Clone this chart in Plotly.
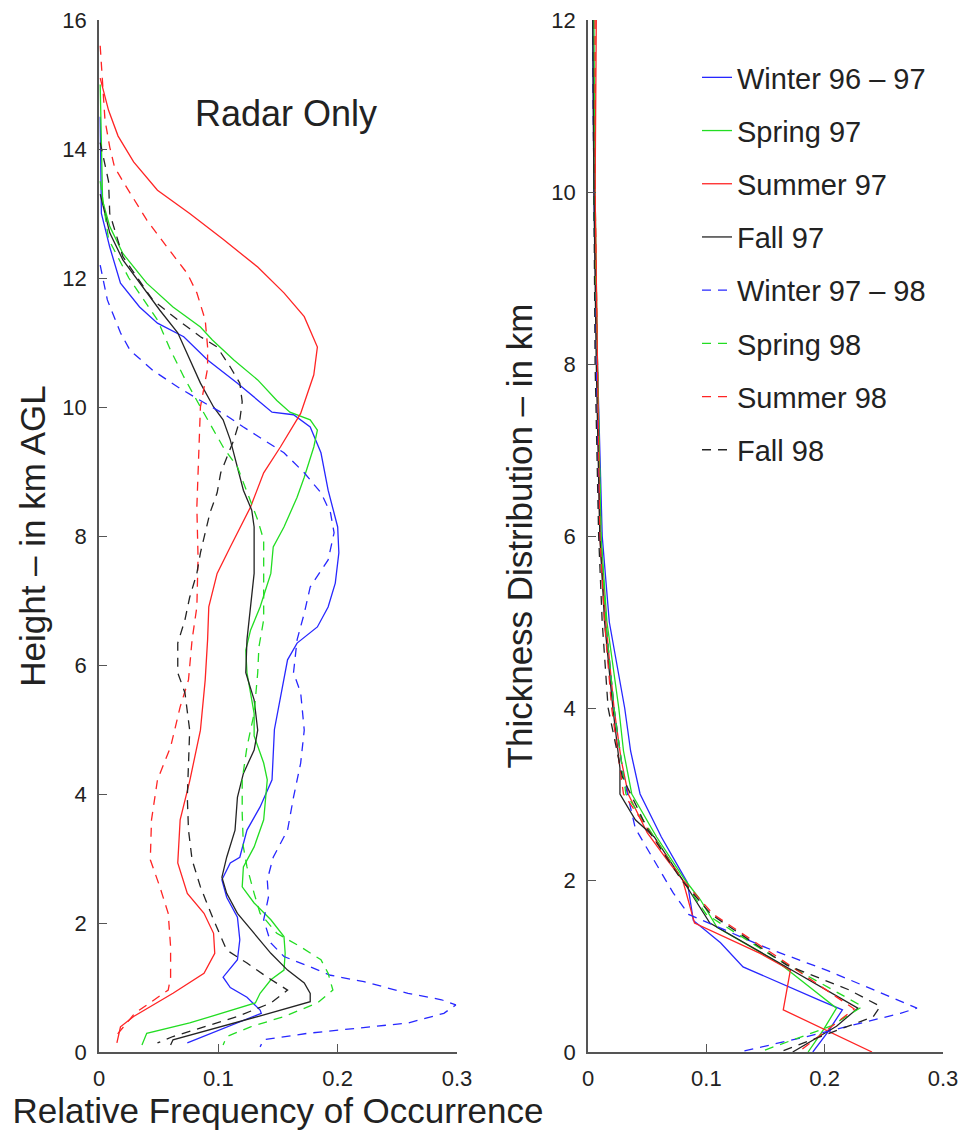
import plotly.graph_objects as go

# ---------------- Left panel: Radar Only (height vs relative frequency) ----------------
w9697_y = [14.5, 13.0, 12.48, 11.92, 11.55, 11.3, 11.09, 10.73, 10.37, 10.1, 9.92, 9.88, 9.69, 9.29, 8.71,
           8.14, 7.74, 7.27, 6.9, 6.59, 6.34, 6.08, 5.5, 5.0, 4.22, 3.8, 3.44, 3.02, 2.93, 2.67, 2.4, 2.09,
           1.74, 1.43, 1.16, 1.0, 0.85, 0.65, 0.6, 0.14]
w9697_x = [0.001, 0.002, 0.009, 0.018, 0.034, 0.049, 0.071, 0.091, 0.116, 0.133, 0.145, 0.163, 0.177, 0.186,
           0.192, 0.2, 0.201, 0.198, 0.192, 0.183, 0.166, 0.158, 0.152, 0.147, 0.145, 0.135, 0.124, 0.118,
           0.110, 0.103, 0.107, 0.116, 0.118, 0.116, 0.104, 0.110, 0.124, 0.135, 0.136, 0.074]

sp97_y = [15.0, 13.2, 12.8, 12.38, 11.92, 11.55, 11.24, 11.04, 10.73, 10.42, 10.1, 9.92, 9.8, 9.64, 9.38,
          8.91, 8.6, 8.14, 7.83, 7.42, 6.9, 6.54, 6.23, 5.88, 5.25, 4.9, 4.48, 4.22, 3.6, 3.18, 2.87, 2.56,
          2.31, 2.05, 1.79, 1.53, 1.27, 1.12, 0.91, 0.76, 0.45, 0.29, 0.11]
sp97_x = [0.001, 0.003, 0.009, 0.02, 0.04, 0.062, 0.085, 0.095, 0.113, 0.133, 0.149, 0.160, 0.177, 0.183,
          0.18, 0.172, 0.166, 0.155, 0.146, 0.144, 0.135, 0.127, 0.123, 0.124, 0.13, 0.13, 0.138, 0.141,
          0.138, 0.130, 0.121, 0.120, 0.130, 0.144, 0.155, 0.156, 0.155, 0.144, 0.135, 0.131, 0.076, 0.04, 0.036]

su97_y = [15.1, 14.6, 14.2, 13.8, 13.36, 13.0, 12.6, 12.17, 11.77, 11.4, 10.93, 10.5, 9.9, 9.38, 8.98, 8.45,
          7.83, 7.42, 6.9, 6.39, 5.77, 4.99, 4.2, 3.6, 2.93, 2.46, 2.15, 1.84, 1.53, 1.22, 0.91, 0.7, 0.55,
          0.39, 0.14]
su97_x = [0.001, 0.008, 0.016, 0.029, 0.049, 0.076, 0.104, 0.133, 0.155, 0.172, 0.183, 0.180, 0.169, 0.152,
          0.138, 0.127, 0.110, 0.099, 0.092, 0.091, 0.089, 0.085, 0.076, 0.068, 0.066, 0.074, 0.088, 0.096,
          0.097, 0.088, 0.062, 0.043, 0.029, 0.018, 0.015]

fa97_y = [13.3, 12.7, 12.28, 11.92, 11.5, 11.15, 10.73, 10.37, 10.0, 9.8, 9.49, 9.07, 8.71, 8.4, 8.14, 7.42,
          6.9, 6.39, 5.88, 5.46, 4.99, 4.68, 4.32, 3.95, 3.44, 3.02, 2.71, 2.46, 2.15, 1.84, 1.53, 1.27, 1.07,
          0.91, 0.78, 0.55, 0.34, 0.19, 0.11]
fa97_x = [0.001, 0.009, 0.02, 0.034, 0.051, 0.066, 0.076, 0.085, 0.096, 0.104, 0.110, 0.116, 0.121, 0.128,
          0.13, 0.13, 0.127, 0.124, 0.123, 0.130, 0.133, 0.130, 0.121, 0.116, 0.114, 0.107, 0.103, 0.107,
          0.116, 0.13, 0.144, 0.158, 0.172, 0.177, 0.177, 0.133, 0.091, 0.062, 0.060]

w9798_y = [12.2, 11.66, 11.15, 10.88, 10.57, 10.31, 10.1, 9.9, 9.69, 9.49, 9.29, 8.98, 8.67, 8.36, 8.05, 7.63,
           7.21, 6.8, 6.39, 5.88, 5.57, 4.99, 4.48, 3.95, 3.44, 3.02, 2.67, 2.4, 2.05, 1.69, 1.48, 1.32, 1.19,
           1.09, 0.91, 0.81, 0.73, 0.6, 0.45, 0.37, 0.29, 0.19, 0.08]
w9798_x = [0.001, 0.007, 0.018, 0.026, 0.045, 0.066, 0.085, 0.104, 0.121, 0.138, 0.155, 0.172, 0.186, 0.194,
           0.197, 0.192, 0.177, 0.172, 0.166, 0.163, 0.169, 0.172, 0.169, 0.163, 0.158, 0.146, 0.141, 0.142,
           0.138, 0.144, 0.155, 0.177, 0.194, 0.222, 0.259, 0.287, 0.299, 0.289, 0.259, 0.217, 0.175, 0.138,
           0.135]

sp98_y = [13.5, 12.6, 12.0, 11.35, 10.88, 10.47, 10.1, 9.75, 9.38, 9.07, 8.67, 8.25, 7.94, 6.7, 6.28, 5.88,
          5.25, 4.73, 4.22, 3.7, 3.18, 2.87, 2.46, 2.15, 1.84, 1.63, 1.43, 1.22, 0.96, 0.76, 0.55, 0.39, 0.24,
          0.11]
sp98_x = [0.001, 0.008, 0.025, 0.049, 0.06, 0.071, 0.082, 0.093, 0.104, 0.116, 0.124, 0.133, 0.138, 0.138,
          0.134, 0.133, 0.13, 0.124, 0.12, 0.12, 0.121, 0.124, 0.130, 0.135, 0.149, 0.169, 0.186, 0.192,
          0.196, 0.183, 0.155, 0.127, 0.107, 0.104]

su98_y = [15.6, 14.45, 14.03, 13.72, 13.5, 13.26, 12.9, 12.48, 12.07, 11.77, 11.35, 10.93, 10.6, 10.0, 8.98,
          8.45, 7.67, 6.9, 6.39, 5.77, 5.35, 4.73, 4.22, 3.6, 2.98, 2.56, 2.15, 1.63, 1.16, 0.96, 0.6, 0.2]
su98_x = [0.001, 0.005, 0.009, 0.013, 0.02, 0.028, 0.040, 0.057, 0.074, 0.082, 0.089, 0.091, 0.091, 0.085,
          0.083, 0.082, 0.083, 0.082, 0.078, 0.075, 0.068, 0.060, 0.049, 0.044, 0.043, 0.051, 0.058, 0.060,
          0.060, 0.058, 0.03, 0.012]

fa98_y = [14.1, 13.5, 13.0, 12.33, 11.66, 11.35, 11.09, 10.93, 10.62, 10.37, 10.08, 9.8, 9.49, 9.22, 8.98,
          8.67, 8.36, 8.05, 7.74, 7.42, 7.05, 6.7, 6.34, 5.88, 5.57, 4.99, 4.48, 3.95, 3.44, 2.98, 2.56, 2.05,
          1.58, 1.38, 1.16, 0.96, 0.76, 0.55, 0.39, 0.24, 0.14]
fa98_x = [0.001, 0.008, 0.009, 0.02, 0.045, 0.066, 0.085, 0.099, 0.110, 0.118, 0.120, 0.118, 0.113, 0.107,
          0.102, 0.099, 0.093, 0.089, 0.085, 0.082, 0.076, 0.072, 0.066, 0.066, 0.072, 0.076, 0.075, 0.074,
          0.075, 0.078, 0.085, 0.096, 0.107, 0.124, 0.141, 0.158, 0.144, 0.116, 0.088, 0.062, 0.049]

# ---------------- Right panel: thickness distribution ----------------
t_w9697_y = [12, 10, 8, 6, 5, 4, 3.5, 3, 2.5, 1.97, 1.53, 1.27, 0.99, 0.8, 0.6, 0.49, 0.22, 0]
t_w9697_x = [0.004, 0.005, 0.008, 0.012, 0.018, 0.031, 0.036, 0.044, 0.062, 0.084, 0.089, 0.112, 0.131,
             0.162, 0.196, 0.215, 0.202, 0.19]
t_sp97_y = [12, 10, 8, 6, 5, 4, 3.5, 3, 2.5, 2.0, 1.77, 1.45, 1.03, 0.51, 0.26, 0]
t_sp97_x = [0.005, 0.006, 0.008, 0.011, 0.016, 0.026, 0.03, 0.037, 0.058, 0.082, 0.095, 0.109, 0.162, 0.21,
            0.199, 0.186]
t_su97_y = [12, 10, 8, 6, 5, 4, 3.4, 3, 2.55, 2.23, 2.0, 1.5, 1.15, 0.95, 0.49, 0]
t_su97_x = [0.007, 0.006, 0.008, 0.010, 0.015, 0.022, 0.028, 0.034, 0.05, 0.067, 0.080, 0.09, 0.145, 0.171,
            0.165, 0.24]
t_fa97_y = [12, 10, 8, 6, 5, 4, 3.3, 3.0, 2.7, 2.5, 2.0, 1.5, 1.05, 0.51, 0.3, 0]
t_fa97_x = [0.004, 0.005, 0.007, 0.010, 0.014, 0.021, 0.027, 0.027, 0.04, 0.056, 0.08, 0.103, 0.16, 0.228,
            0.21, 0.173]
t_w9798_y = [12, 10, 8, 6, 5, 4, 3.2, 2.6, 1.85, 1.6, 1.21, 0.95, 0.69, 0.51, 0.45, 0.33, 0.18, 0]
t_w9798_x = [0.004, 0.005, 0.007, 0.010, 0.015, 0.022, 0.03, 0.04, 0.072, 0.085, 0.151, 0.202, 0.247,
             0.278, 0.264, 0.23, 0.185, 0.128]
t_sp98_y = [12, 10, 8, 6, 5, 4, 3, 2.5, 2.0, 1.6, 1.08, 0.53, 0.3, 0]
t_sp98_x = [0.005, 0.005, 0.008, 0.011, 0.015, 0.022, 0.032, 0.056, 0.08, 0.10, 0.16, 0.232, 0.205, 0.145]
t_su98_y = [12, 10, 8, 6, 5, 4, 3, 2.5, 2.0, 1.6, 1.06, 0.5, 0.26, 0]
t_su98_x = [0.006, 0.006, 0.008, 0.010, 0.014, 0.02, 0.03, 0.055, 0.08, 0.106, 0.165, 0.225, 0.202, 0.178]
t_fa98_y = [12, 10, 8, 6, 5, 4, 3.2, 2.6, 2.0, 1.6, 1.01, 0.72, 0.53, 0.41, 0]
t_fa98_x = [0.004, 0.005, 0.006, 0.009, 0.012, 0.017, 0.029, 0.05, 0.079, 0.104, 0.168, 0.221, 0.247, 0.241,
            0.162]

names = ["Winter 96 \u2013 97", "Spring 97", "Summer 97", "Fall 97",
         "Winter 97 \u2013 98", "Spring 98", "Summer 98", "Fall 98"]
colors = ["#2727ff", "#22dd22", "#ff2424", "#242424", "#2727ff", "#22dd22", "#ff2424", "#242424"]
dashes = ["solid"] * 4 + ["9px,7px"] * 4

left = [(w9697_x, w9697_y), (sp97_x, sp97_y), (su97_x, su97_y), (fa97_x, fa97_y),
        (w9798_x, w9798_y), (sp98_x, sp98_y), (su98_x, su98_y), (fa98_x, fa98_y)]
right = [(t_w9697_x, t_w9697_y), (t_sp97_x, t_sp97_y), (t_su97_x, t_su97_y), (t_fa97_x, t_fa97_y),
         (t_w9798_x, t_w9798_y), (t_sp98_x, t_sp98_y), (t_su98_x, t_su98_y), (t_fa98_x, t_fa98_y)]

fig = go.Figure()
for i, (xs, ys) in enumerate(left):
    fig.add_trace(go.Scatter(x=xs, y=ys, mode="lines", xaxis="x", yaxis="y", showlegend=False,
                             line=dict(color=colors[i], width=1.3, dash=dashes[i])))
for i, (xs, ys) in enumerate(right):
    fig.add_trace(go.Scatter(x=xs, y=ys, mode="lines", xaxis="x2", yaxis="y2", name=names[i],
                             legendgroup="g%d" % i,
                             line=dict(color=colors[i], width=1.3, dash=dashes[i])))

FONT = "Liberation Sans, Arial, Helvetica, sans-serif"
W, H = 966, 1133
ydom = [(H - 1052) / H, (H - 20) / H]
axis_common = dict(showline=True, linecolor="#555", linewidth=1.5, ticks="inside", ticklen=8,
                   tickcolor="#555", tickwidth=1.2, showgrid=False, zeroline=False, automargin=False,
                   tickfont=dict(size=22, color="#222", family=FONT))

fig.update_layout(
    width=W, height=H, autosize=False,
    margin=dict(l=0, r=0, t=0, b=0),
    paper_bgcolor="white", plot_bgcolor="white",
    font=dict(family=FONT, color="#222"),
    xaxis=dict(domain=[99 / W, 457 / W], range=[0, 0.3], tickvals=[0, 0.1, 0.2, 0.3],
               ticktext=["0", "0.1", "0.2", "0.3"], anchor="y", ticklabelstandoff=6,
               title=dict(text="Relative Frequency of Occurrence", font=dict(size=35, family=FONT),
                          standoff=2), **axis_common),
    yaxis=dict(domain=ydom, range=[0, 16], tickvals=list(range(0, 17, 2)), anchor="x", ticklabelstandoff=6,
               title=dict(text="Height \u2013 in km AGL", font=dict(size=35, family=FONT), standoff=6),
               **axis_common),
    xaxis2=dict(domain=[588 / W, 943 / W], range=[0, 0.3], tickvals=[0, 0.1, 0.2, 0.3],
                ticktext=["0", "0.1", "0.2", "0.3"], anchor="y2", ticklabelstandoff=6, **axis_common),
    yaxis2=dict(domain=ydom, range=[0, 12], tickvals=list(range(0, 13, 2)), anchor="x2", ticklabelstandoff=6,
                title=dict(text="Thickness Distribution \u2013 in km", font=dict(size=35, family=FONT),
                           standoff=8), **axis_common),
    legend=dict(x=697 / W, y=(H - 52) / H, xanchor="left", yanchor="top",
                font=dict(size=29, family=FONT, color="#222"), bgcolor="rgba(255,255,255,0)",
                tracegroupgap=12.5, itemwidth=30),
    annotations=[dict(text="Radar Only", x=286 / W, y=(H - 113) / H, xref="paper", yref="paper",
                      xanchor="center", yanchor="middle",
                      showarrow=False, font=dict(size=36, family=FONT, color="#222"))],
)

fig.write_html("out.html")
